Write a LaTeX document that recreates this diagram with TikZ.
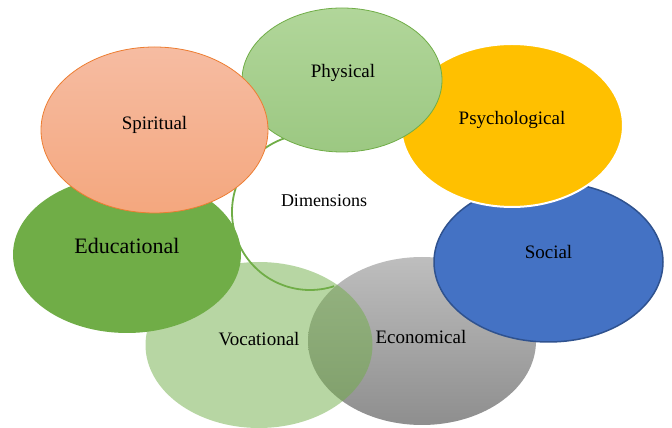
\documentclass[tikz,border=0pt]{standalone}
\usepackage{fontspec}
\setmainfont{Liberation Serif}
\usetikzlibrary{shapes.geometric,positioning}

\definecolor{leafgreen}{HTML}{70AD47}
\definecolor{paleleaf}{HTML}{B1D69A}
\definecolor{paleleafdark}{HTML}{9CC882}
\definecolor{amber}{HTML}{FFC000}
\definecolor{royal}{HTML}{4472C4}
\definecolor{royaledge}{HTML}{2F528F}
\definecolor{peachtop}{HTML}{F6BCA2}
\definecolor{peachbot}{HTML}{F4A77E}
\definecolor{peachedge}{HTML}{ED7D31}
\definecolor{greytop}{HTML}{BEBEBE}
\definecolor{greybot}{HTML}{8E8E8E}

\begin{document}
\begin{tikzpicture}[x=1pt,y=1pt,
  bubble/.style={ellipse, inner sep=0pt},
  lbl/.style={font=\fontsize{19}{21}\selectfont, text=black},
  ring/.style={draw=leafgreen, line width=1.8pt}]
\useasboundingbox (0,0) rectangle (672,428);

\coordinate (hub) at (310,216);

\node[bubble, minimum width=228pt, minimum height=168pt,
  top color=greytop, bottom color=greybot] (economical) at (422,87) {};
\node[bubble, minimum width=229pt, minimum height=160pt,
  fill=royal, draw=royaledge, line width=1.5pt] (social) at (548.5,166) {};
\node[bubble, minimum width=222pt, minimum height=163pt,
  fill=amber, draw=white, line width=2pt] (psychological) at (512,302.5) {};
\node[bubble, minimum width=227pt, minimum height=166pt,
  fill=leafgreen, fill opacity=0.5] (vocational) at (259,83) {};

\draw[ring] (hub) ++(100:78) arc[start angle=100, end angle=288, radius=78];

\node[bubble, minimum width=200pt, minimum height=144pt,
  top color=paleleaf, bottom color=paleleafdark, draw=leafgreen, line width=0.8pt] (physical) at (342,348) {};
\node[bubble, minimum width=228pt, minimum height=157pt,
  fill=leafgreen] (educational) at (127,173.5) {};
\node[bubble, minimum width=227pt, minimum height=166pt,
  top color=peachtop, bottom color=peachbot, draw=peachedge, line width=0.8pt] (spiritual) at (154.5,298) {};

\node[lbl] (physicalText) at ([xshift=1pt,yshift=7pt]physical.center) {Physical};
\node[lbl] (spiritualText) at ([yshift=5pt]spiritual.center) {Spiritual};
\node[lbl] (psychologicalText) at ([yshift=5.5pt]psychological.center) {Psychological};
\node[lbl] (socialText) at ([yshift=10pt]social.center) {Social};
\node[lbl, font=\fontsize{22}{24}\selectfont] (educationalText) at ([yshift=8.5pt]educational.center) {Educational};
\node[lbl] (vocationalText) at ([yshift=6pt]vocational.center) {Vocational};
\node[lbl] (economicalText) at ([xshift=-1pt,yshift=4pt]economical.center) {Economical};
\node[lbl, font=\fontsize{18}{20}\selectfont] (dimensionsText) at ([xshift=14pt,yshift=11pt]hub) {Dimensions};

\end{tikzpicture}
\end{document}
